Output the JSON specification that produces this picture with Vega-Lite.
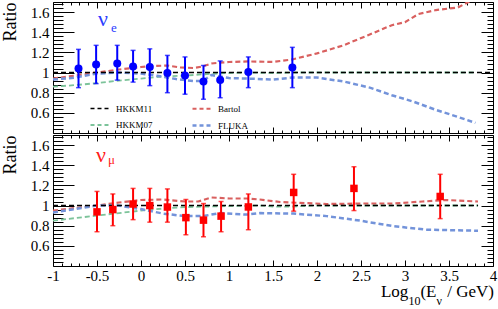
{
  "$schema": "https://vega.github.io/schema/vega-lite/v6.json",
  "background": "white",
  "padding": {"left": 0, "top": 1, "right": 0, "bottom": 0},
  "spacing": 0,
  "config": {
    "view": {"stroke": "#000000", "strokeWidth": 1},
    "font": "Liberation Serif",
    "axis": {"grid": false, "domain": false, "tickColor": "#000000", "tickWidth": 1, "labelColor": "#000000", "titleColor": "#000000", "labelFlush": false, "labelOverlap": false, "labelBound": false, "labelFont": "Liberation Serif", "titleFont": "Liberation Serif"}
  },
  "datasets": {
    "curves_e": [
      {"x": -1, "ratio": 0.86, "model": "HKKM07"}, {"x": -0.75, "ratio": 0.875, "model": "HKKM07"}, {"x": -0.5, "ratio": 0.895, "model": "HKKM07"}, {"x": -0.25, "ratio": 0.92, "model": "HKKM07"}, {"x": 0, "ratio": 0.94, "model": "HKKM07"}, {"x": 0.25, "ratio": 0.96, "model": "HKKM07"}, {"x": 0.5, "ratio": 0.97, "model": "HKKM07"}, {"x": 0.75, "ratio": 0.985, "model": "HKKM07"}, {"x": 1, "ratio": 0.995, "model": "HKKM07"}, {"x": 1.25, "ratio": 1.0, "model": "HKKM07"}, {"x": 1.5, "ratio": 0.995, "model": "HKKM07"}, {"x": 1.75, "ratio": 1.0, "model": "HKKM07"}, {"x": 2, "ratio": 1.0, "model": "HKKM07"}, {"x": 3.8, "ratio": 1.0, "model": "HKKM07"},
      {"x": -1, "ratio": 0.94, "model": "Bartol"}, {"x": -0.75, "ratio": 0.97, "model": "Bartol"}, {"x": -0.5, "ratio": 1.0, "model": "Bartol"}, {"x": -0.25, "ratio": 1.03, "model": "Bartol"}, {"x": 0, "ratio": 1.055, "model": "Bartol"}, {"x": 0.15, "ratio": 1.065, "model": "Bartol"}, {"x": 0.3, "ratio": 1.07, "model": "Bartol"}, {"x": 0.45, "ratio": 1.05, "model": "Bartol"}, {"x": 0.6, "ratio": 1.045, "model": "Bartol"}, {"x": 0.7, "ratio": 1.06, "model": "Bartol"}, {"x": 0.8, "ratio": 1.09, "model": "Bartol"}, {"x": 1.0, "ratio": 1.105, "model": "Bartol"}, {"x": 1.22, "ratio": 1.11, "model": "Bartol"}, {"x": 1.5, "ratio": 1.105, "model": "Bartol"}, {"x": 1.72, "ratio": 1.13, "model": "Bartol"}, {"x": 2.0, "ratio": 1.19, "model": "Bartol"}, {"x": 2.3, "ratio": 1.27, "model": "Bartol"}, {"x": 2.58, "ratio": 1.37, "model": "Bartol"}, {"x": 2.85, "ratio": 1.47, "model": "Bartol"}, {"x": 3.0, "ratio": 1.5, "model": "Bartol"}, {"x": 3.15, "ratio": 1.58, "model": "Bartol"}, {"x": 3.35, "ratio": 1.62, "model": "Bartol"}, {"x": 3.6, "ratio": 1.645, "model": "Bartol"}, {"x": 3.72, "ratio": 1.7, "model": "Bartol"}, {"x": 3.8, "ratio": 1.75, "model": "Bartol"},
      {"x": -1, "ratio": 0.93, "model": "FLUKA"}, {"x": -0.75, "ratio": 0.95, "model": "FLUKA"}, {"x": -0.5, "ratio": 0.99, "model": "FLUKA"}, {"x": -0.25, "ratio": 1.0, "model": "FLUKA"}, {"x": 0, "ratio": 0.99, "model": "FLUKA"}, {"x": 0.2, "ratio": 0.965, "model": "FLUKA"}, {"x": 0.4, "ratio": 0.935, "model": "FLUKA"}, {"x": 0.6, "ratio": 0.915, "model": "FLUKA"}, {"x": 0.7, "ratio": 0.915, "model": "FLUKA"}, {"x": 0.8, "ratio": 0.975, "model": "FLUKA"}, {"x": 0.9, "ratio": 0.96, "model": "FLUKA"}, {"x": 1.0, "ratio": 0.945, "model": "FLUKA"}, {"x": 1.22, "ratio": 0.94, "model": "FLUKA"}, {"x": 1.5, "ratio": 0.93, "model": "FLUKA"}, {"x": 1.72, "ratio": 0.95, "model": "FLUKA"}, {"x": 2.0, "ratio": 0.95, "model": "FLUKA"}, {"x": 2.31, "ratio": 0.91, "model": "FLUKA"}, {"x": 2.6, "ratio": 0.85, "model": "FLUKA"}, {"x": 2.85, "ratio": 0.775, "model": "FLUKA"}, {"x": 3.1, "ratio": 0.71, "model": "FLUKA"}, {"x": 3.35, "ratio": 0.63, "model": "FLUKA"}, {"x": 3.6, "ratio": 0.56, "model": "FLUKA"}, {"x": 3.8, "ratio": 0.5, "model": "FLUKA"},
      {"x": -1, "ratio": 1.0, "model": "HKKM11"}, {"x": 4, "ratio": 1.0, "model": "HKKM11"}
    ],
    "curves_mu": [
      {"x": -1, "ratio": 0.85, "model": "HKKM07"}, {"x": -0.5, "ratio": 0.9, "model": "HKKM07"}, {"x": -0.25, "ratio": 0.925, "model": "HKKM07"}, {"x": 0, "ratio": 0.95, "model": "HKKM07"}, {"x": 0.25, "ratio": 0.97, "model": "HKKM07"}, {"x": 0.5, "ratio": 0.985, "model": "HKKM07"}, {"x": 1.0, "ratio": 0.995, "model": "HKKM07"}, {"x": 1.35, "ratio": 1.0, "model": "HKKM07"}, {"x": 1.5, "ratio": 0.99, "model": "HKKM07"}, {"x": 1.7, "ratio": 0.99, "model": "HKKM07"}, {"x": 2, "ratio": 1.0, "model": "HKKM07"}, {"x": 3.83, "ratio": 1.0, "model": "HKKM07"},
      {"x": -1, "ratio": 0.95, "model": "Bartol"}, {"x": -0.75, "ratio": 0.975, "model": "Bartol"}, {"x": -0.5, "ratio": 1.0, "model": "Bartol"}, {"x": -0.25, "ratio": 1.03, "model": "Bartol"}, {"x": 0, "ratio": 1.055, "model": "Bartol"}, {"x": 0.25, "ratio": 1.06, "model": "Bartol"}, {"x": 0.5, "ratio": 1.04, "model": "Bartol"}, {"x": 0.65, "ratio": 1.04, "model": "Bartol"}, {"x": 0.8, "ratio": 1.08, "model": "Bartol"}, {"x": 1.0, "ratio": 1.07, "model": "Bartol"}, {"x": 1.2, "ratio": 1.07, "model": "Bartol"}, {"x": 1.35, "ratio": 1.06, "model": "Bartol"}, {"x": 1.58, "ratio": 1.035, "model": "Bartol"}, {"x": 2.11, "ratio": 1.015, "model": "Bartol"}, {"x": 2.5, "ratio": 1.02, "model": "Bartol"}, {"x": 2.87, "ratio": 1.02, "model": "Bartol"}, {"x": 3.2, "ratio": 1.04, "model": "Bartol"}, {"x": 3.47, "ratio": 1.055, "model": "Bartol"}, {"x": 3.83, "ratio": 1.04, "model": "Bartol"},
      {"x": -1, "ratio": 0.93, "model": "FLUKA"}, {"x": -0.5, "ratio": 1.0, "model": "FLUKA"}, {"x": -0.25, "ratio": 1.0, "model": "FLUKA"}, {"x": 0, "ratio": 0.965, "model": "FLUKA"}, {"x": 0.25, "ratio": 0.92, "model": "FLUKA"}, {"x": 0.5, "ratio": 0.895, "model": "FLUKA"}, {"x": 0.7, "ratio": 0.895, "model": "FLUKA"}, {"x": 0.9, "ratio": 0.925, "model": "FLUKA"}, {"x": 1.2, "ratio": 0.91, "model": "FLUKA"}, {"x": 1.35, "ratio": 0.925, "model": "FLUKA"}, {"x": 1.73, "ratio": 0.92, "model": "FLUKA"}, {"x": 2.11, "ratio": 0.895, "model": "FLUKA"}, {"x": 2.49, "ratio": 0.85, "model": "FLUKA"}, {"x": 2.87, "ratio": 0.795, "model": "FLUKA"}, {"x": 3.25, "ratio": 0.76, "model": "FLUKA"}, {"x": 3.83, "ratio": 0.75, "model": "FLUKA"},
      {"x": -1, "ratio": 1.0, "model": "HKKM11"}, {"x": 3.83, "ratio": 1.0, "model": "HKKM11"}
    ],
    "data_e": [
      {"x": -0.71, "r": 1.04, "lo": 0.85, "hi": 1.23},
      {"x": -0.51, "r": 1.08, "lo": 0.89, "hi": 1.27},
      {"x": -0.27, "r": 1.09, "lo": 0.925, "hi": 1.27},
      {"x": -0.09, "r": 1.06, "lo": 0.905, "hi": 1.22},
      {"x": 0.1, "r": 1.055, "lo": 0.87, "hi": 1.235},
      {"x": 0.3, "r": 0.995, "lo": 0.8, "hi": 1.17},
      {"x": 0.5, "r": 0.97, "lo": 0.785, "hi": 1.155},
      {"x": 0.71, "r": 0.91, "lo": 0.735, "hi": 1.07},
      {"x": 0.9, "r": 0.925, "lo": 0.75, "hi": 1.115},
      {"x": 1.22, "r": 1.005, "lo": 0.85, "hi": 1.155},
      {"x": 1.72, "r": 1.05, "lo": 0.85, "hi": 1.25}
    ],
    "data_mu": [
      {"x": -0.5, "r": 0.937, "lo": 0.74, "hi": 1.14},
      {"x": -0.32, "r": 0.96, "lo": 0.8, "hi": 1.115},
      {"x": -0.09, "r": 1.015, "lo": 0.86, "hi": 1.17},
      {"x": 0.1, "r": 1.0, "lo": 0.835, "hi": 1.17},
      {"x": 0.3, "r": 0.985, "lo": 0.835, "hi": 1.165},
      {"x": 0.51, "r": 0.88, "lo": 0.71, "hi": 1.06},
      {"x": 0.71, "r": 0.855, "lo": 0.69, "hi": 1.02},
      {"x": 0.91, "r": 0.895, "lo": 0.74, "hi": 1.04},
      {"x": 1.22, "r": 0.986, "lo": 0.76, "hi": 1.115},
      {"x": 1.735, "r": 1.13, "lo": 0.944, "hi": 1.31},
      {"x": 2.42, "r": 1.17, "lo": 0.95, "hi": 1.385},
      {"x": 3.4, "r": 1.09, "lo": 0.87, "hi": 1.31}
    ]
  },
  "vconcat": [
    {
      "width": 440,
      "height": 131,
      "layer": [
        {
          "data": {"name": "curves_e"},
          "mark": {"type": "line", "strokeDash": [5, 3], "clip": true},
          "encoding": {
            "x": {"field": "x", "type": "quantitative", "scale": {"domain": [-1, 4], "nice": false, "zero": false},
              "axis": {"orient": "bottom", "values": [-1, -0.5, 0, 0.5, 1, 1.5, 2, 2.5, 3, 3.5, 4], "tickSize": -6, "labels": false, "title": null}},
            "y": {"field": "ratio", "type": "quantitative", "scale": {"domain": [0.4, 1.7], "nice": false, "zero": false},
              "axis": {"orient": "left", "values": [0.6, 0.8, 1, 1.2, 1.4, 1.6], "tickSize": -21, "labelPadding": 25, "labelExpr": "toString(datum.value)", "labelFontSize": 15, "title": "Ratio", "titleFontSize": 18, "titleFontWeight": "normal", "titleAngle": 270, "titleX": -52, "titleY": 0, "titleAlign": "right", "titleBaseline": "top"}},
            "color": {"field": "model", "type": "nominal",
              "scale": {"domain": ["HKKM11", "HKKM07", "Bartol", "FLUKA"], "range": ["#000000", "#7cc39a", "#d9605f", "#7393da"]},
              "legend": {"title": null, "orient": "none", "legendX": 36, "legendY": 95, "columns": 2, "symbolType": "stroke", "symbolSize": 400, "symbolStrokeWidth": 2.5, "symbolDash": [4, 3], "labelFont": "Liberation Serif", "labelFontSize": 9, "labelColor": "#000000", "labelOffset": 4, "columnPadding": 34, "rowPadding": -8, "padding": 0}},
            "strokeWidth": {"field": "model", "type": "nominal", "scale": {"domain": ["HKKM11", "HKKM07", "Bartol", "FLUKA"], "range": [1.5, 2.5, 2.5, 2.5]}, "legend": null}
          }
        },
        {
          "data": {"name": "data_e"},
          "mark": {"type": "rule", "color": "#0000ff", "strokeWidth": 2},
          "encoding": {
            "x": {"field": "x", "type": "quantitative", "axis": {"orient": "bottom", "values": [-0.9, -0.8, -0.7, -0.6, -0.4, -0.3, -0.2, -0.1, 0.1, 0.2, 0.3, 0.4, 0.6, 0.7, 0.8, 0.9, 1.1, 1.2, 1.3, 1.4, 1.6, 1.7, 1.8, 1.9, 2.1, 2.2, 2.3, 2.4, 2.6, 2.7, 2.8, 2.9, 3.1, 3.2, 3.3, 3.4, 3.6, 3.7, 3.8, 3.9], "tickSize": -3, "labels": false, "title": null}},
            "y": {"field": "lo", "type": "quantitative", "axis": {"orient": "left", "values": [0.44, 0.48, 0.52, 0.56, 0.64, 0.68, 0.72, 0.76, 0.84, 0.88, 0.92, 0.96, 1.04, 1.08, 1.12, 1.16, 1.24, 1.28, 1.32, 1.36, 1.44, 1.48, 1.52, 1.56, 1.64, 1.68], "tickSize": -10, "labels": false, "title": null}},
            "y2": {"field": "hi"}
          }
        },
        {
          "data": {"name": "data_e"},
          "mark": {"type": "tick", "orient": "horizontal", "color": "#0000ff", "size": 5, "thickness": 1.5},
          "encoding": {
            "x": {"field": "x", "type": "quantitative", "axis": {"orient": "top", "values": [-1, -0.5, 0, 0.5, 1, 1.5, 2, 2.5, 3, 3.5, 4], "tickSize": -6, "labels": false, "title": null}},
            "y": {"field": "lo", "type": "quantitative", "axis": {"orient": "right", "values": [0.6, 0.8, 1, 1.2, 1.4, 1.6], "tickSize": -12, "labels": false, "title": null}}
          }
        },
        {
          "data": {"name": "data_e"},
          "mark": {"type": "tick", "orient": "horizontal", "color": "#0000ff", "size": 5, "thickness": 1.5},
          "encoding": {
            "x": {"field": "x", "type": "quantitative", "axis": {"orient": "top", "values": [-0.9, -0.8, -0.7, -0.6, -0.4, -0.3, -0.2, -0.1, 0.1, 0.2, 0.3, 0.4, 0.6, 0.7, 0.8, 0.9, 1.1, 1.2, 1.3, 1.4, 1.6, 1.7, 1.8, 1.9, 2.1, 2.2, 2.3, 2.4, 2.6, 2.7, 2.8, 2.9, 3.1, 3.2, 3.3, 3.4, 3.6, 3.7, 3.8, 3.9], "tickSize": -3, "labels": false, "title": null}},
            "y": {"field": "hi", "type": "quantitative", "axis": {"orient": "right", "values": [0.44, 0.48, 0.52, 0.56, 0.64, 0.68, 0.72, 0.76, 0.84, 0.88, 0.92, 0.96, 1.04, 1.08, 1.12, 1.16, 1.24, 1.28, 1.32, 1.36, 1.44, 1.48, 1.52, 1.56, 1.64, 1.68], "tickSize": -6, "labels": false, "title": null}}
          }
        },
        {
          "data": {"name": "data_e"},
          "mark": {"type": "point", "shape": "circle", "filled": true, "size": 64, "color": "#0000ff", "opacity": 1},
          "encoding": {
            "x": {"field": "x", "type": "quantitative", "axis": null},
            "y": {"field": "r", "type": "quantitative", "axis": null}
          }
        },
        {
          "data": {"values": [{}]},
          "mark": {"type": "text", "text": "ν", "font": "Liberation Serif", "fontSize": 22, "color": "#2a3cff", "align": "left", "baseline": "alphabetic"},
          "encoding": {
            "x": {"datum": -0.49, "type": "quantitative", "axis": null},
            "y": {"datum": 1.466, "type": "quantitative", "axis": null}
          }
        },
        {
          "data": {"values": [{}]},
          "mark": {"type": "text", "text": "e", "font": "Liberation Serif", "fontSize": 13, "color": "#2a3cff", "align": "left", "baseline": "alphabetic"},
          "encoding": {
            "x": {"datum": -0.341, "type": "quantitative", "axis": null},
            "y": {"datum": 1.407, "type": "quantitative", "axis": null}
          }
        }
      ],
      "resolve": {"axis": {"x": "independent", "y": "independent"}}
    },
    {
      "width": 440,
      "height": 131,
      "layer": [
        {
          "data": {"name": "curves_mu"},
          "mark": {"type": "line", "strokeDash": [5, 3], "clip": true},
          "encoding": {
            "x": {"field": "x", "type": "quantitative", "scale": {"domain": [-1, 4], "nice": false, "zero": false},
              "axis": {"orient": "bottom", "values": [-1, -0.5, 0, 0.5, 1, 1.5, 2, 2.5, 3, 3.5, 4], "tickSize": -6, "labelPadding": 8, "labelExpr": "toString(datum.value)", "labelFontSize": 15, "title": null}},
            "y": {"field": "ratio", "type": "quantitative", "scale": {"domain": [0.4, 1.7], "nice": false, "zero": false},
              "axis": {"orient": "left", "values": [0.6, 0.8, 1, 1.2, 1.4, 1.6], "tickSize": -21, "labelPadding": 25, "labelExpr": "toString(datum.value)", "labelFontSize": 15, "title": "Ratio", "titleFontSize": 18, "titleFontWeight": "normal", "titleAngle": 270, "titleX": -52, "titleY": 0, "titleAlign": "right", "titleBaseline": "top"}},
            "color": {"field": "model", "type": "nominal",
              "scale": {"domain": ["HKKM11", "HKKM07", "Bartol", "FLUKA"], "range": ["#000000", "#7cc39a", "#d9605f", "#7393da"]},
              "legend": null},
            "strokeWidth": {"field": "model", "type": "nominal", "scale": {"domain": ["HKKM11", "HKKM07", "Bartol", "FLUKA"], "range": [1.5, 2.5, 2.5, 2.5]}, "legend": null}
          }
        },
        {
          "data": {"name": "data_mu"},
          "mark": {"type": "rule", "color": "#ff0000", "strokeWidth": 2},
          "encoding": {
            "x": {"field": "x", "type": "quantitative", "axis": {"orient": "bottom", "values": [-0.9, -0.8, -0.7, -0.6, -0.4, -0.3, -0.2, -0.1, 0.1, 0.2, 0.3, 0.4, 0.6, 0.7, 0.8, 0.9, 1.1, 1.2, 1.3, 1.4, 1.6, 1.7, 1.8, 1.9, 2.1, 2.2, 2.3, 2.4, 2.6, 2.7, 2.8, 2.9, 3.1, 3.2, 3.3, 3.4, 3.6, 3.7, 3.8, 3.9], "tickSize": -3, "labels": false, "title": null}},
            "y": {"field": "lo", "type": "quantitative", "axis": {"orient": "left", "values": [0.44, 0.48, 0.52, 0.56, 0.64, 0.68, 0.72, 0.76, 0.84, 0.88, 0.92, 0.96, 1.04, 1.08, 1.12, 1.16, 1.24, 1.28, 1.32, 1.36, 1.44, 1.48, 1.52, 1.56, 1.64, 1.68], "tickSize": -10, "labels": false, "title": null}},
            "y2": {"field": "hi"}
          }
        },
        {
          "data": {"name": "data_mu"},
          "mark": {"type": "tick", "orient": "horizontal", "color": "#ff0000", "size": 5, "thickness": 1.5},
          "encoding": {
            "x": {"field": "x", "type": "quantitative", "axis": {"orient": "top", "values": [-1, -0.5, 0, 0.5, 1, 1.5, 2, 2.5, 3, 3.5, 4], "tickSize": -6, "labels": false, "title": null}},
            "y": {"field": "lo", "type": "quantitative", "axis": {"orient": "right", "values": [0.6, 0.8, 1, 1.2, 1.4, 1.6], "tickSize": -12, "labels": false, "title": null}}
          }
        },
        {
          "data": {"name": "data_mu"},
          "mark": {"type": "tick", "orient": "horizontal", "color": "#ff0000", "size": 5, "thickness": 1.5},
          "encoding": {
            "x": {"field": "x", "type": "quantitative", "axis": {"orient": "top", "values": [-0.9, -0.8, -0.7, -0.6, -0.4, -0.3, -0.2, -0.1, 0.1, 0.2, 0.3, 0.4, 0.6, 0.7, 0.8, 0.9, 1.1, 1.2, 1.3, 1.4, 1.6, 1.7, 1.8, 1.9, 2.1, 2.2, 2.3, 2.4, 2.6, 2.7, 2.8, 2.9, 3.1, 3.2, 3.3, 3.4, 3.6, 3.7, 3.8, 3.9], "tickSize": -3, "labels": false, "title": null}},
            "y": {"field": "hi", "type": "quantitative", "axis": {"orient": "right", "values": [0.44, 0.48, 0.52, 0.56, 0.64, 0.68, 0.72, 0.76, 0.84, 0.88, 0.92, 0.96, 1.04, 1.08, 1.12, 1.16, 1.24, 1.28, 1.32, 1.36, 1.44, 1.48, 1.52, 1.56, 1.64, 1.68], "tickSize": -6, "labels": false, "title": null}}
          }
        },
        {
          "data": {"name": "data_mu"},
          "mark": {"type": "point", "shape": "square", "filled": true, "size": 56, "color": "#ff0000", "opacity": 1},
          "encoding": {
            "x": {"field": "x", "type": "quantitative", "axis": null},
            "y": {"field": "r", "type": "quantitative", "axis": null}
          }
        },
        {
          "data": {"values": [{}]},
          "mark": {"type": "text", "text": "ν", "font": "Liberation Serif", "fontSize": 22, "color": "#ff1a1a", "align": "left", "baseline": "alphabetic"},
          "encoding": {
            "x": {"datum": -0.511, "type": "quantitative", "axis": null},
            "y": {"datum": 1.437, "type": "quantitative", "axis": null}
          }
        },
        {
          "data": {"values": [{}]},
          "mark": {"type": "text", "text": "μ", "font": "Liberation Serif", "fontSize": 13, "color": "#ff1a1a", "align": "left", "baseline": "alphabetic"},
          "encoding": {
            "x": {"datum": -0.375, "type": "quantitative", "axis": null},
            "y": {"datum": 1.417, "type": "quantitative", "axis": null}
          }
        },
        {
          "data": {"values": [{}]},
          "mark": {"type": "text", "text": "Log", "font": "Liberation Serif", "fontSize": 17, "color": "#000000", "align": "left", "baseline": "alphabetic"},
          "encoding": {
            "x": {"datum": 2.727, "type": "quantitative", "axis": null},
            "y": {"datum": 0.095, "type": "quantitative", "axis": null}
          }
        },
        {
          "data": {"values": [{}]},
          "mark": {"type": "text", "text": "10", "font": "Liberation Serif", "fontSize": 12, "color": "#000000", "align": "left", "baseline": "alphabetic"},
          "encoding": {
            "x": {"datum": 3.039, "type": "quantitative", "axis": null},
            "y": {"datum": 0.01, "type": "quantitative", "axis": null}
          }
        },
        {
          "data": {"values": [{}]},
          "mark": {"type": "text", "text": "(E", "font": "Liberation Serif", "fontSize": 17, "color": "#000000", "align": "left", "baseline": "alphabetic"},
          "encoding": {
            "x": {"datum": 3.175, "type": "quantitative", "axis": null},
            "y": {"datum": 0.095, "type": "quantitative", "axis": null}
          }
        },
        {
          "data": {"values": [{}]},
          "mark": {"type": "text", "text": "ν", "font": "Liberation Serif", "fontSize": 12, "color": "#000000", "align": "left", "baseline": "alphabetic"},
          "encoding": {
            "x": {"datum": 3.357, "type": "quantitative", "axis": null},
            "y": {"datum": 0.01, "type": "quantitative", "axis": null}
          }
        },
        {
          "data": {"values": [{}]},
          "mark": {"type": "text", "text": "/ GeV)", "font": "Liberation Serif", "fontSize": 17, "color": "#000000", "align": "left", "baseline": "alphabetic"},
          "encoding": {
            "x": {"datum": 3.479, "type": "quantitative", "axis": null},
            "y": {"datum": 0.095, "type": "quantitative", "axis": null}
          }
        }
      ],
      "resolve": {"axis": {"x": "independent", "y": "independent"}}
    }
  ],
  "resolve": {"scale": {"color": "independent", "strokeWidth": "independent"}, "legend": {"color": "independent"}}
}
